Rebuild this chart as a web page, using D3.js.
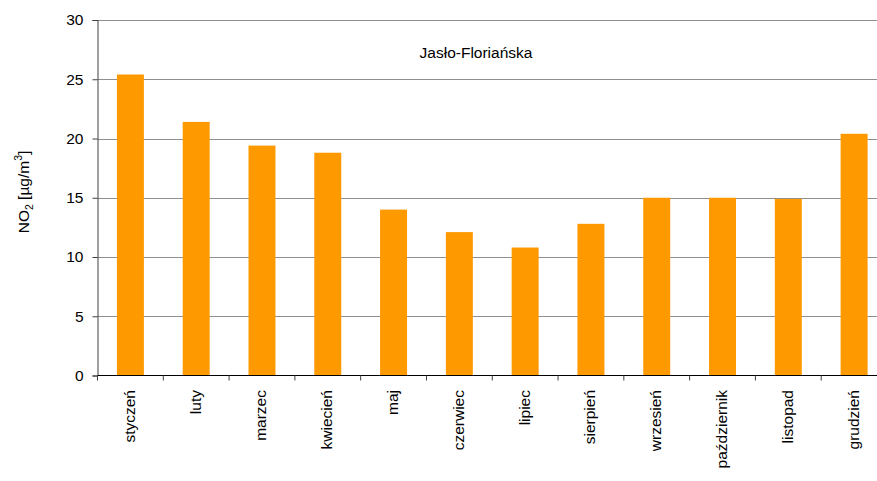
<!DOCTYPE html>
<html>
<head>
<meta charset="utf-8">
<script src="https://cdn.jsdelivr.net/npm/d3@7"></script>
<style>
  html, body { margin: 0; padding: 0; background: #fff; }
  svg { display: block; font-family: "Liberation Sans", Arial, sans-serif; }
</style>
</head>
<body>
<svg id="chart" width="877" height="481"></svg>
<script>
// Monthly mean NO2 concentration, station Jasło-Floriańska
const months = ["styczeń", "luty", "marzec", "kwiecień", "maj", "czerwiec",
                "lipiec", "sierpień", "wrzesień", "październik", "listopad", "grudzień"];
const no2 = [25.4, 21.4, 19.4, 18.8, 14.0, 12.1, 10.8, 12.8, 15.0, 15.0, 14.9, 20.4];
const yTicks = [0, 5, 10, 15, 20, 25, 30];
const stationName = "Jasło-Floriańska";

const fontSize = 15.5;
const svg = d3.select("#chart");
const plotLeft = 97.5, plotRight = 887, plotTop = 20, plotBottom = 375.5;

const x = d3.scaleBand().domain(months).range([plotLeft, plotRight]).padding(0);
const y = d3.scaleLinear().domain([0, 30]).range([plotBottom, plotTop]);
const barW = x.bandwidth() * 0.41;

// horizontal gridlines
svg.append("g")
  .selectAll("line")
  .data(yTicks.filter(d => d > 0))
  .join("line")
  .attr("x1", plotLeft).attr("x2", 877)
  .attr("y1", d => Math.round(y(d)) + 0.5).attr("y2", d => Math.round(y(d)) + 0.5)
  .attr("stroke", "#8f8f8f").attr("stroke-width", 1);

// bars
svg.append("g")
  .selectAll("rect")
  .data(months.map((m, i) => ({ m, v: no2[i] })))
  .join("rect")
  .attr("x", d => x(d.m) + (x.bandwidth() - barW) / 2)
  .attr("width", barW)
  .attr("y", d => y(d.v))
  .attr("height", d => y(0) - y(d.v))
  .attr("fill", "#ff9900");

// y axis
const yAxis = svg.append("g")
  .attr("transform", `translate(${plotLeft},0)`)
  .call(d3.axisLeft(y).tickValues(yTicks).tickSize(5).tickPadding(9));
yAxis.select(".domain").attr("stroke", "#404040");
yAxis.selectAll(".tick line").attr("stroke", "#404040");
yAxis.selectAll("text").attr("font-size", fontSize).attr("fill", "#000")
  .attr("font-family", "Liberation Sans, Arial, sans-serif");

// x axis with ticks on the category boundaries
const xAxis = svg.append("g")
  .attr("transform", `translate(0,${plotBottom})`);
xAxis.append("line")
  .attr("x1", plotLeft).attr("x2", 877).attr("y1", 0).attr("y2", 0)
  .attr("stroke", "#000").attr("stroke-width", 1);
xAxis.selectAll("line.tk")
  .data(months)
  .join("line").attr("class", "tk")
  .attr("x1", d => x(d)).attr("x2", d => x(d))
  .attr("y1", 0).attr("y2", 5)
  .attr("stroke", "#404040");
xAxis.selectAll("text")
  .data(months)
  .join("text")
  .attr("transform", d => `translate(${x(d) + x.bandwidth() / 2 + 4.5},14.5) rotate(-90)`)
  .attr("text-anchor", "end")
  .attr("font-size", fontSize)
  .attr("fill", "#000")
  .text(d => d);

// y axis title
const yTitle = svg.append("text")
  .attr("transform", "translate(28.5,192) rotate(-90)")
  .attr("text-anchor", "middle")
  .attr("font-size", fontSize)
  .attr("fill", "#000");
yTitle.append("tspan").text("NO");
yTitle.append("tspan").attr("font-size", 10.5).attr("dy", 4).text("2");
yTitle.append("tspan").attr("dy", -4).text(" [µg/m");
yTitle.append("tspan").attr("font-size", 10.5).attr("dy", -7).text("3");
yTitle.append("tspan").attr("dy", 7).text("]");

// station name
svg.append("text")
  .attr("x", 476).attr("y", 58)
  .attr("text-anchor", "middle")
  .attr("font-size", fontSize)
  .attr("fill", "#000")
  .text(stationName);
</script>
</body>
</html>
